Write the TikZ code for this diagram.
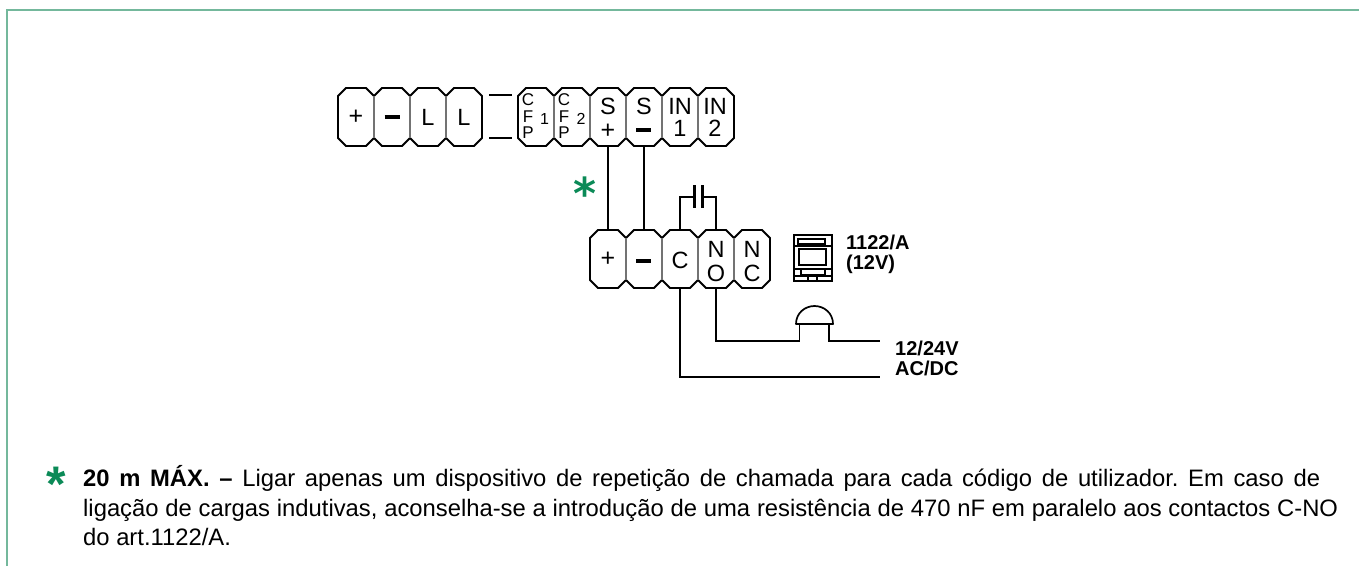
\documentclass[tikz,border=0pt]{standalone}
\usepackage{fontspec}
\setmainfont{Liberation Sans}
\newfontfamily\djv{DejaVu Sans}
\definecolor{framegreen}{HTML}{74B89C}
\definecolor{stargreen}{HTML}{0B8A57}
\tikzset{
  x=1pt,y=-1pt,
  wire/.style={draw=black,line width=1.9pt,line join=miter},
  outl/.style={draw=black,line width=1.9pt,line join=miter},
  sep/.style={draw=black!55,line width=1.4pt},
  lbl/.style={inner sep=0pt,font=\fontsize{23.5}{23.5}\selectfont},
  plusl/.style={inner sep=0pt,font=\fontsize{25}{25}\selectfont},
  small/.style={inner sep=0pt,font=\fontsize{16}{16}\selectfont},
  tiny/.style={inner sep=0pt,font=\fontsize{17}{17}\selectfont},
  bold/.style={inner sep=0pt,font=\fontsize{20}{20.5}\selectfont\bfseries,align=left,anchor=west},
  body/.style={inner sep=0pt,anchor=base west,font=\fontsize{23.8}{23.8}\selectfont},
  star/.style={inner sep=0pt,text=stargreen},
}
\newcommand{\dashrule}{\rule{15pt}{3.4pt}}
\newcommand{\strip}[3]{% left, top, number of cells (cell 36 wide, 58 high)
  \pgfmathsetmacro{\lastc}{int(#3-1)}
  \draw[outl] (#1,#2+8)
    \foreach \i in {0,...,\lastc}{ -- ++(8,-8) -- ++(20,0) -- ++(8,8) }
    -- ++(0,42)
    \foreach \i in {0,...,\lastc}{ -- ++(-8,8) -- ++(-20,0) -- ++(-8,-8) }
    -- cycle;
  \foreach \i in {1,...,\lastc}{ \draw[sep] (#1+\i*36,#2+8) -- ++(0,42); }
}
\frenchspacing
\begin{document}
\begin{tikzpicture}
\useasboundingbox (0,0) rectangle (1359,566);
% frame
\draw[framegreen,line width=2.2pt] (7,566) -- (7,10) -- (1359,10);
% top strips
\strip{338}{88}{4}
\strip{518}{88}{6}
% bottom strip
\strip{590}{230}{5}
% top labels
\node[plusl] (tplus) at (356,117.5) {+};
\node[inner sep=0pt] (tminus) at (392,117) {\dashrule};
\node[lbl] (tl1) at (428,117) {L};
\node[lbl] (tl2) at (464,117) {L};
\coordinate (ja) at (489,95); \coordinate (jb) at (512,95);
\coordinate (jc) at (489,138); \coordinate (jd) at (512,138);
\draw[wire] (ja) -- (jb);
\draw[wire] (jc) -- (jd);
% CFP
\node[tiny] (c1) at (528,100) {C};
\node[tiny] (f1) at (528,116.5) {F};
\node[tiny] (p1) at (528,133) {P};
\node[small] (n1) at (544.5,119) {1};
\node[tiny] (c2) at (564,100) {C};
\node[tiny] (f2) at (564,116.5) {F};
\node[tiny] (p2) at (564,133) {P};
\node[small] (n2) at (581,119) {2};
\node[lbl] (sp) at (608,106) {S};
\node[plusl] (spp) at (608,131) {+};
\node[lbl] (sm) at (644,106) {S};
\node[inner sep=0pt] (smm) at (643.5,130) {\dashrule};
\node[lbl] (in1a) at (680,106) {IN};
\node[lbl] (in1b) at (680,128) {1};
\node[lbl] (in2a) at (715,106) {IN};
\node[lbl] (in2b) at (715,128) {2};
% bottom labels
\node[plusl] (bplus) at (608,259) {+};
\node[inner sep=0pt] (bminus) at (643.5,261) {\dashrule};
\node[lbl] (bc) at (680,260.5) {C};
\node[lbl] (bn) at (716,249) {N};
\node[lbl] (bo) at (716,273) {O};
\node[lbl] (bn2) at (752,249) {N};
\node[lbl] (bc2) at (752,273) {C};
% wires
\coordinate (t1) at (608,146);
\coordinate (t2) at (644,146);
\coordinate (b1) at (608,230);
\coordinate (b2) at (644,230);
\draw[wire] (t1) -- (b1);
\draw[wire] (t2) -- (b2);
% capacitor
\coordinate (capa) at (680,230);
\coordinate (capb) at (716,230);
\draw[wire] (capa) -- (680,197) -- (693,197);
\draw[wire] (capb) -- (716,197) -- (703,197);
\draw[black,line width=3pt] (694,185) -- (694,208);
\draw[black,line width=3pt] (702,185) -- (702,208);
% lower wiring
\coordinate (l1) at (680,288);
\coordinate (l2) at (716,288);
\coordinate (e1) at (880,377);
\coordinate (e2) at (880,341);
\draw[wire] (l1) -- (680,377) -- (e1);
\draw[wire] (l2) -- (716,341) -- (799.5,341) -- (799.5,324);
\draw[wire] (829,324) -- (829,341) -- (e2);
\draw[line width=1.7pt,line join=round] (796,324) .. controls (796,313) and (805,306) .. (814.5,306) .. controls (824,306) and (833,313) .. (833,324) -- cycle;
% relay icon
\begin{scope}[line width=1.4pt,black]
\draw (794,235) rectangle (832,281);
\draw (798,239) rectangle (825,244);
\draw (794,246) -- (832,246);
\draw (799,249) rectangle (826,265);
\draw (794,269) -- (832,269);
\draw (801,269) rectangle (825,275);
\draw (794,276) -- (832,276);
\draw (808,276) -- (808,281);
\draw (817,276) -- (817,281);
\end{scope}
% labels
\node[bold] (relay) at (846,254.5) {1122/A\\(12V)};
\node[bold] (volt) at (895,358.5) {12/24V\\AC/DC};
\node[star,font=\fontsize{44}{44}\selectfont\djv\bfseries] (s1) at (585,193) {*};
\node[star,font=\fontsize{50}{50}\selectfont\bfseries] (s2) at (56,484.5) {*};
% text
\node[body] (ln1) at (83,486.5) {\makebox[1237pt][s]{\textbf{20 m MÁX. –} Ligar apenas um dispositivo de repetição de chamada para cada código de utilizador. Em caso de}};
\node[body] (ln2) at (83,516) {\makebox[1255pt][s]{ligação de cargas indutivas, aconselha-se a introdução de uma resistência de 470 nF em paralelo aos contactos C-NO}};
\node[body] (ln3) at (83,545) {do art.1122/A.};
\end{tikzpicture}
\end{document}
